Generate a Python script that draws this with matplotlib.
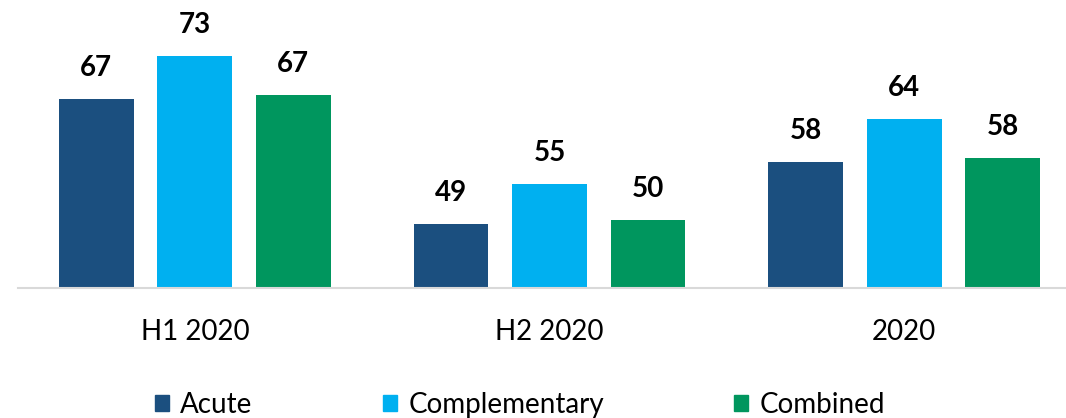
import numpy as np
import matplotlib
matplotlib.use("Agg")
import matplotlib.pyplot as plt
from matplotlib.patches import Patch

plt.rcParams['font.family'] = ['Lato', 'DejaVu Sans']

# data (bars are not exact integers, labels are rounded)
periods = ['H1 2020', 'H2 2020', '2020']
series = ['Acute', 'Complementary', 'Combined']
acute = [66.8, 49.1, 57.9]
complementary = [73.0, 54.8, 64.0]
combined = [67.4, 49.7, 58.5]
colors = ['#1B4F7F', '#00B0F0', '#00965E']

fig = plt.figure(figsize=(10.66, 4.18), dpi=100)
ax = fig.add_axes([17.5 / 1066, 130 / 418, 1064 / 1066, 0.6737])

x = np.arange(len(periods))
step = 0.2775
width = 0.211

for i, (vals, col) in enumerate(zip([acute, complementary, combined], colors)):
    bars = ax.bar(x + (i - 1) * step, vals, width, color=col, zorder=2)
    for b, v in zip(bars, vals):
        ax.annotate(f"{round(v):d}", (b.get_x() + b.get_width() / 2, v),
                    xytext=(0, 13), textcoords='offset points',
                    ha='center', va='bottom', fontsize=20, fontweight='bold',
                    color='black')

ax.set_xlim(-0.5, 2.5)
ax.set_ylim(40, 80)
ax.set_xticks(x)
ax.set_xticklabels(periods, fontsize=20)
ax.tick_params(axis='x', length=0, pad=22)
ax.set_yticks([])
for s in ['top', 'right', 'left']:
    ax.spines[s].set_visible(False)
ax.spines['bottom'].set_color('#D9D9D9')
ax.spines['bottom'].set_linewidth(1.5)

handles = [Patch(color=c, label=s) for c, s in zip(colors, series)]
fig.legend(handles=handles, loc='center', ncol=3, frameon=False,
           bbox_to_anchor=(520 / 1066, 1 - 405 / 418), fontsize=20,
           handlelength=0.5, handleheight=0.5, handletextpad=0.4,
           columnspacing=4.7, borderpad=0, borderaxespad=0)

fig.savefig('out.png', dpi=100)
